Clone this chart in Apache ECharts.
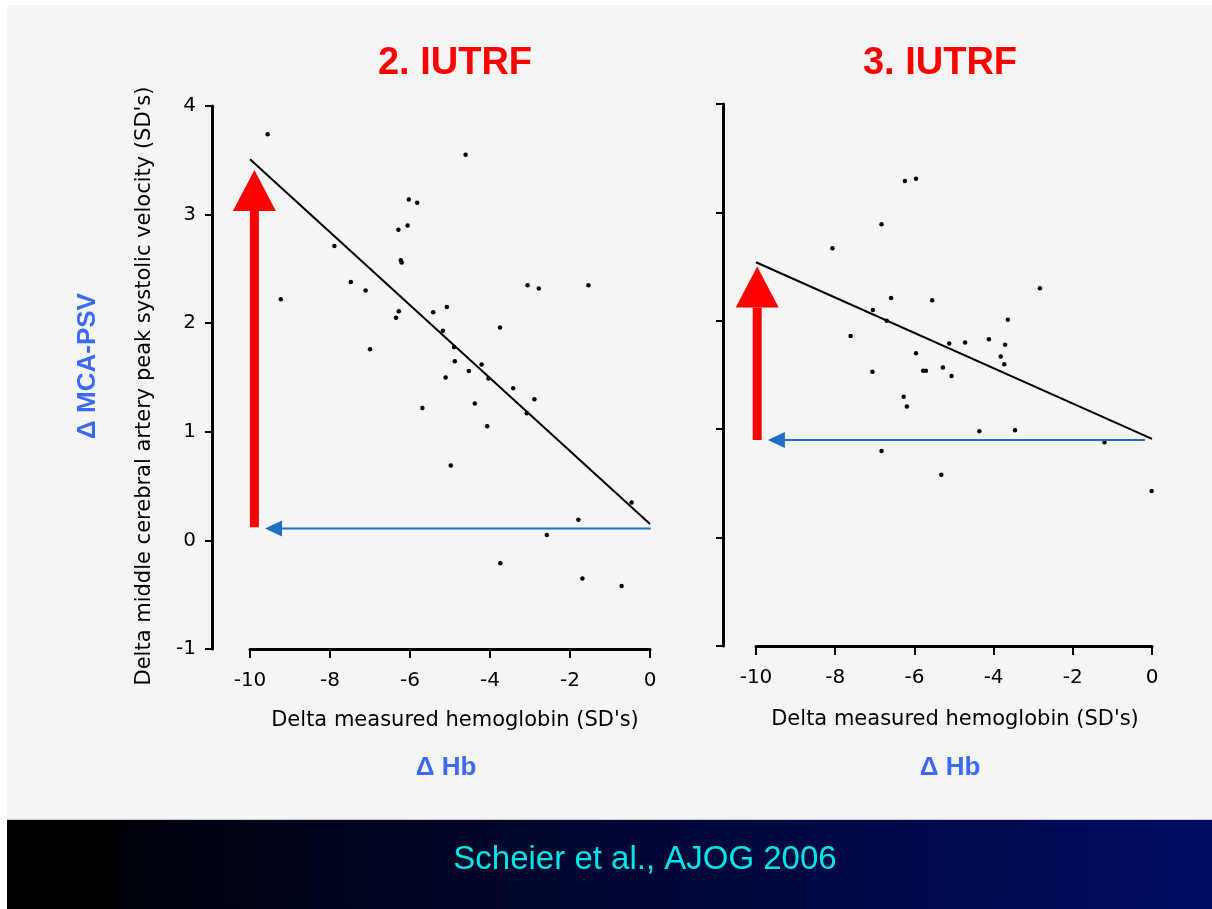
<!DOCTYPE html>
<html><head><meta charset="utf-8">
<script src="https://cdn.jsdelivr.net/npm/echarts@6/dist/echarts.min.js"></script>
<style>
html,body{margin:0;padding:0;background:#fff;}
#wrap{position:relative;width:1212px;height:909px;overflow:hidden;background:#fff;}
#panel{position:absolute;left:7px;top:5px;width:1205px;height:814px;background:#f5f5f5;border-bottom:1px solid #c8c8c8;}
#band{position:absolute;left:7px;top:820px;width:1205px;height:89px;background:linear-gradient(to right,#000 0%,#000 7%,#00020e 12%,#000c62 100%);}
#chart{position:absolute;left:0;top:0;width:1212px;height:909px;}
</style></head>
<body>
<div id="wrap"><div id="panel"></div><div id="band"></div><div id="chart"></div></div>
<script>
// ---- data ----
const xMin = -10, xMax = 0, xStep = 2;
const yMin = -1, yMax = 4, yStep = 1;

const leftPoints = [
  [-9.56,3.74],[-4.61,3.55],[-6.03,3.14],[-5.82,3.11],[-6.06,2.90],[-6.29,2.86],
  [-7.89,2.71],[-6.23,2.58],[-6.21,2.56],[-7.48,2.38],[-7.11,2.30],[-9.23,2.22],
  [-3.06,2.35],[-2.78,2.32],[-1.54,2.35],[-5.08,2.15],[-5.42,2.10],[-6.28,2.11],
  [-6.35,2.05],[-5.18,1.93],[-3.75,1.96],[-7.00,1.76],[-4.90,1.78],[-4.88,1.65],
  [-4.21,1.62],[-4.53,1.56],[-5.11,1.50],[-4.04,1.49],[-3.42,1.40],[-2.89,1.30],
  [-5.69,1.22],[-4.38,1.26],[-3.08,1.17],[-4.07,1.05],[-4.98,0.69],[-0.46,0.35],
  [-1.79,0.19],[-2.58,0.05],[-3.74,-0.21],[-1.69,-0.35],[-0.71,-0.42]
];
const rightPoints = [
  [-6.24,3.29],[-5.96,3.31],[-6.83,2.89],[-8.07,2.67],[-2.83,2.30],[-6.59,2.21],
  [-5.55,2.19],[-7.05,2.10],[-6.70,2.00],[-3.64,2.01],[-7.61,1.86],[-5.12,1.79],
  [-4.72,1.80],[-4.12,1.83],[-3.71,1.78],[-3.82,1.67],[-3.73,1.60],[-5.96,1.70],
  [-7.06,1.53],[-5.71,1.54],[-5.78,1.54],[-5.28,1.57],[-5.06,1.49],[-6.27,1.30],
  [-6.19,1.21],[-4.36,0.98],[-3.46,0.99],[-1.20,0.88],[-6.83,0.80],[-5.32,0.58],
  [-0.01,0.43]
];
const leftFit = [[-10,3.51],[0,0.15]];
const rightFit = [[-10,2.54],[0,0.91]];
// arrows: [fromX, fromY, toX, toY]
const leftRedArrow = [[-9.89,0.12,-9.89,3.41]];
const leftBlueArrow = [[0.02,0.11,-9.625,0.11]];
const rightRedArrow = [[-9.97,0.90,-9.97,2.50]];
const rightBlueArrow = [[-0.18,0.90,-9.70,0.90]];

const panelTitles = ['2. IUTRF','3. IUTRF'];
const xName = 'Delta measured hemoglobin (SD\'s)';
const yName = 'Delta middle cerebral artery peak systolic velocity (SD\'s)';
const xNote = '\u0394 Hb';
const yNote = '\u0394 MCA-PSV';
const citation = 'Scheier et al., AJOG 2006';

// ---- styling ----
const RED = '#ff0000', BLUE_TXT = '#3d6af5', BLUE_ARR = '#1f6fc6';
const tickFont = 'DejaVu Sans';

function arrowRenderer(shaftW, headW, headL, color){
  return function(params, api){
    const p1 = api.coord([api.value(0), api.value(1)]);
    const p2 = api.coord([api.value(2), api.value(3)]);
    const dx = p2[0]-p1[0], dy = p2[1]-p1[1];
    const len = Math.sqrt(dx*dx+dy*dy) || 1;
    const ux = dx/len, uy = dy/len, nx = -uy, ny = ux;
    const bx = p2[0]-ux*headL, by = p2[1]-uy*headL;
    const hw = shaftW/2, hh = headW/2;
    return {type:'group', children:[
      {type:'polygon', shape:{points:[[p1[0]+nx*hw,p1[1]+ny*hw],[bx+nx*hw,by+ny*hw],[bx-nx*hw,by-ny*hw],[p1[0]-nx*hw,p1[1]-ny*hw]]}, style:{fill:color}},
      {type:'polygon', shape:{points:[[p2[0],p2[1]],[bx+nx*hh,by+ny*hh],[bx-nx*hh,by-ny*hh]]}, style:{fill:color}}
    ]};
  };
}

function xAxisCfg(gi){
  return {gridIndex:gi, type:'value', min:xMin, max:xMax, interval:xStep,
    axisLine:{show:true, onZero:false, lineStyle:{color:'#000', width:3}},
    axisTick:{show:true, length:9, lineStyle:{color:'#000', width:2}},
    axisLabel:{show:true, margin:22, color:'#000', fontSize:20, fontFamily:tickFont},
    splitLine:{show:false}};
}
function yAxisCfg(gi, off, labels){
  return {gridIndex:gi, type:'value', min:yMin, max:yMax, interval:yStep, offset:off,
    axisLine:{show:true, onZero:false, lineStyle:{color:'#000', width:3}},
    axisTick:{show:true, length:7, lineStyle:{color:'#000', width:2}},
    axisLabel:{show:labels, margin:16, color:'#000', fontSize:20, fontFamily:tickFont},
    splitLine:{show:false}};
}
function txt(text, x, y, font, color, rot){
  const [size, weight, fam] = font;
  return {type:'text', x:x, y:y, rotation:rot||0, z:10,
    style:{text:text, fontSize:size, fontWeight:weight, fontFamily:fam, fill:color, align:'center', verticalAlign:'middle'}};
}

const chart = echarts.init(document.getElementById('chart'), null, {renderer:'canvas'});
chart.setOption({
  backgroundColor:'transparent',
  animation:false,
  grid:[
    {left:250, top:106, width:400, height:543},
    {left:756, top:104, width:396, height:542}
  ],
  xAxis:[xAxisCfg(0), xAxisCfg(1)],
  yAxis:[yAxisCfg(0, 38, true), yAxisCfg(1, 33, false)],
  series:[
    {type:'scatter', xAxisIndex:0, yAxisIndex:0, data:leftPoints, symbolSize:4.5, itemStyle:{color:'#000', opacity:1}},
    {type:'scatter', xAxisIndex:1, yAxisIndex:1, data:rightPoints, symbolSize:4.5, itemStyle:{color:'#000', opacity:1}},
    {type:'line', xAxisIndex:0, yAxisIndex:0, data:leftFit, symbol:'none', lineStyle:{color:'#000', width:2}},
    {type:'line', xAxisIndex:1, yAxisIndex:1, data:rightFit, symbol:'none', lineStyle:{color:'#000', width:2}},
    {type:'custom', xAxisIndex:0, yAxisIndex:0, data:leftRedArrow, encode:{x:[0,2], y:[1,3]}, clip:false, z:5, renderItem:arrowRenderer(9,43,41,RED)},
    {type:'custom', xAxisIndex:0, yAxisIndex:0, data:leftBlueArrow, encode:{x:[0,2], y:[1,3]}, clip:false, z:5, renderItem:arrowRenderer(2,16,17,BLUE_ARR)},
    {type:'custom', xAxisIndex:1, yAxisIndex:1, data:rightRedArrow, encode:{x:[0,2], y:[1,3]}, clip:false, z:5, renderItem:arrowRenderer(9,43,41,RED)},
    {type:'custom', xAxisIndex:1, yAxisIndex:1, data:rightBlueArrow, encode:{x:[0,2], y:[1,3]}, clip:false, z:5, renderItem:arrowRenderer(2,16,17,BLUE_ARR)}
  ],
  graphic:[
    txt(panelTitles[0], 455, 64, [38,'bold','Liberation Sans'], RED),
    txt(panelTitles[1], 940, 64, [38,'bold','Liberation Sans'], RED),
    txt(xName, 455, 721, [21,'normal','DejaVu Sans'], '#000'),
    txt(xName, 955, 720, [21,'normal','DejaVu Sans'], '#000'),
    txt(xNote, 446, 768, [26,'bold','Liberation Sans'], BLUE_TXT),
    txt(xNote, 950, 768, [26,'bold','Liberation Sans'], BLUE_TXT),
    txt(yName, 145, 386, [21,'normal','DejaVu Sans'], '#000', Math.PI/2),
    txt(yNote, 88, 366, [26,'bold','Liberation Sans'], BLUE_TXT, Math.PI/2),
    txt(citation, 645, 860, [33,'normal','Liberation Sans'], '#00e5e5')
  ]
});
</script>
</body></html>
